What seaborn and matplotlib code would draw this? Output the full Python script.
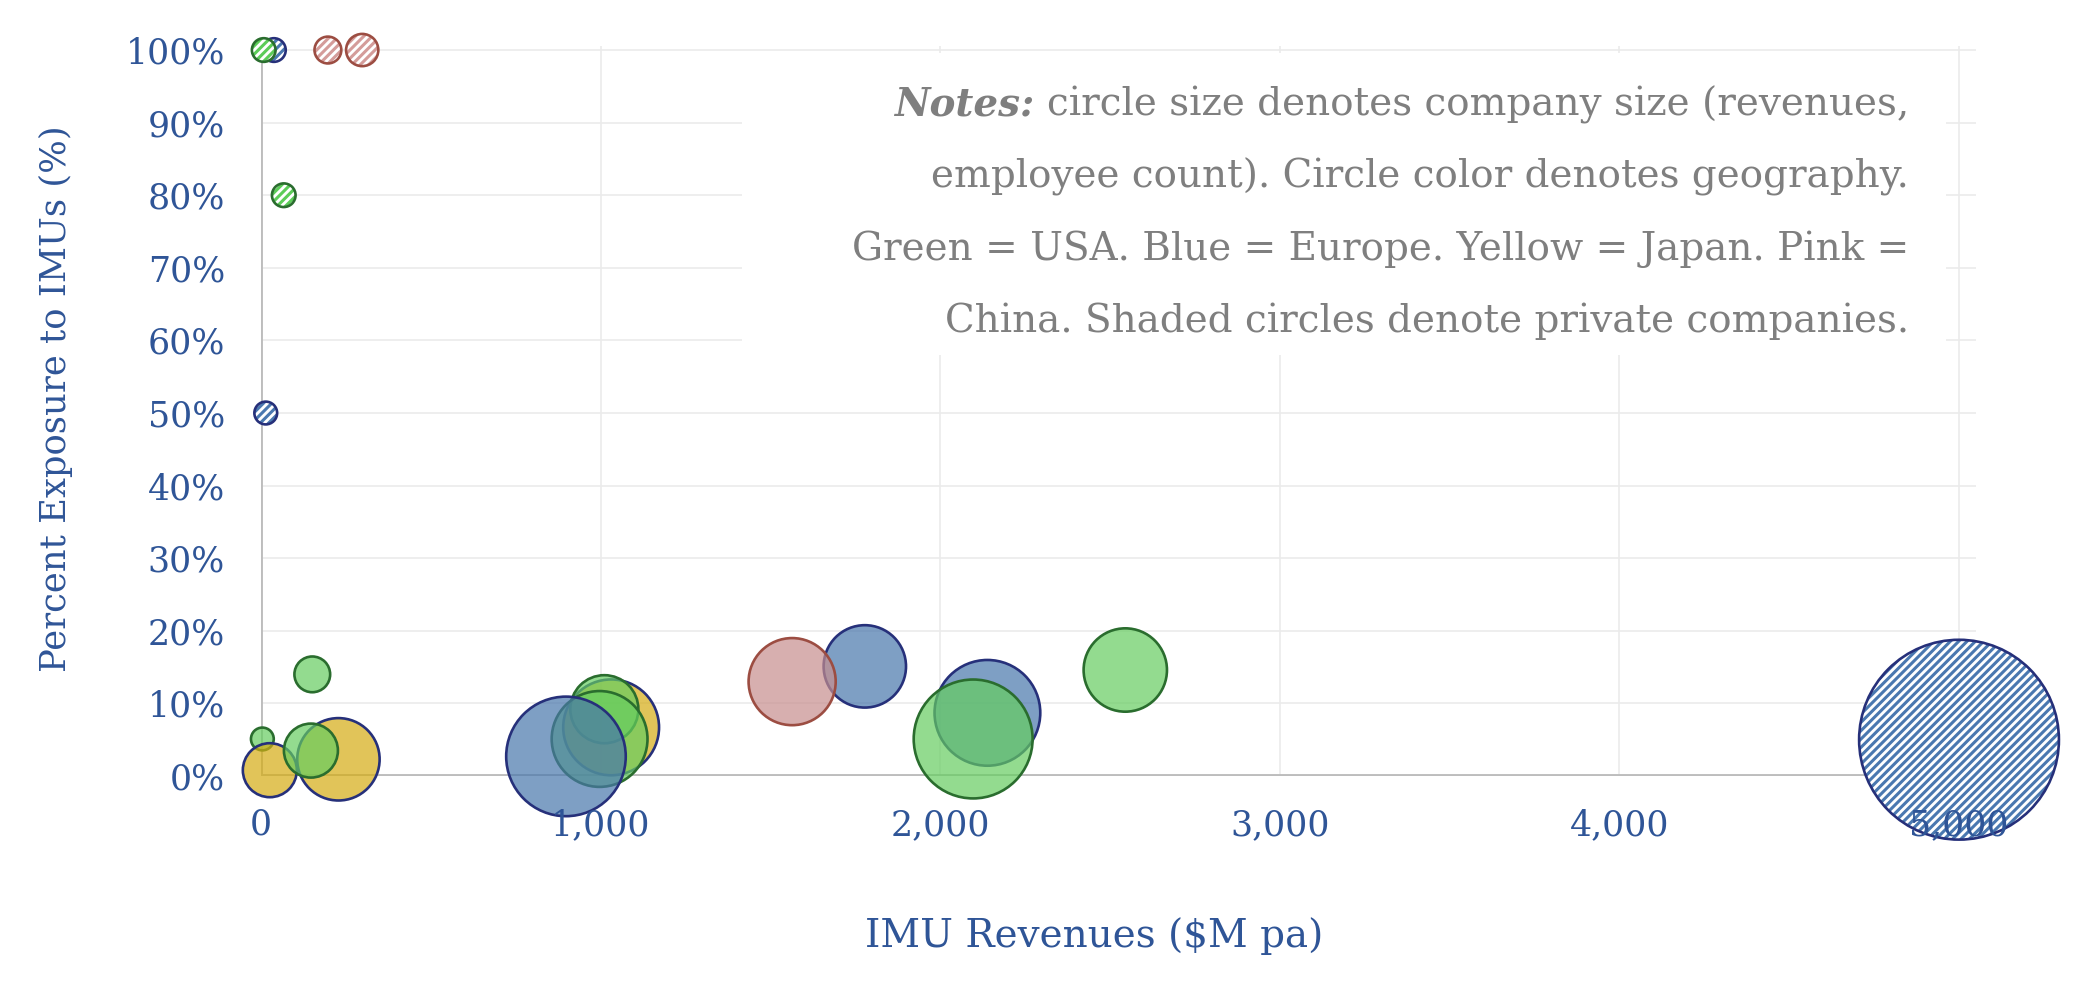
import matplotlib
matplotlib.use("Agg")
import matplotlib.pyplot as plt
import matplotlib.ticker as mticker
import matplotlib.patches as mpatches
import pandas as pd
import seaborn as sns

# IMU revenues ($M pa), % exposure to IMUs, relative company size (bubble area), geography, private?
revenue = [38, 14, 5000, 67, 8, 197, 298,
           151, 4, 26, 228, 147, 1031, 1011, 997, 898,
           1778, 1564, 2139, 2097, 2545]
exposure = [100, 50, 5.0, 80, 100, 100, 100,
            14.0, 5.1, 0.8, 2.3, 3.5, 6.7, 9.2, 5.1, 2.7,
            15.1, 13.0, 8.7, 5.1, 14.6]
company_size = [1.4, 1.3, 100, 1.4, 1.4, 1.8, 2.6,
                3.2, 1.3, 7.3, 17, 7.3, 23, 11.6, 23, 35.8,
                17, 19, 28, 35.4, 17.4]
region = ["Europe", "Europe", "Europe", "USA", "USA", "China", "China",
          "USA", "USA", "Japan", "Japan", "USA", "Japan", "USA", "USA", "Europe",
          "Europe", "China", "Europe", "USA", "USA"]
private = [True] * 7 + [False] * 14

x_ticks = [0, 1000, 2000, 3000, 4000, 5000]
y_ticks = [0, 10, 20, 30, 40, 50, 60, 70, 80, 90, 100]

notes = ["circle size denotes company size (revenues,",
         "employee count). Circle color denotes geography.",
         "Green = USA. Blue = Europe. Yellow = Japan. Pink =",
         "China. Shaded circles denote private companies."]

fill = {"USA": "#65cd60b3", "Europe": "#4876abb3", "Japan": "#d5ac13b3", "China": "#c78e8eb3"}
edge = {"USA": "#2a6d2e", "Europe": "#26307a", "Japan": "#26307a", "China": "#9c4d42"}
stripe = {"USA": "#5ccc58", "Europe": "#4a78b0", "China": "#d49c9a"}
label_col = "#2f5597"

sns.set_style("white")
plt.rcParams["font.family"] = ["DejaVu Serif"]
plt.rcParams["hatch.linewidth"] = 2.2

df = pd.DataFrame({"revenue": revenue, "exposure": exposure, "size": company_size,
                   "region": region, "private": private})

fig, ax = plt.subplots(figsize=(20.79, 9.9), dpi=100)
fig.subplots_adjust(left=261 / 2079, right=1976 / 2079, bottom=1 - 776 / 990, top=1 - 46.4 / 990)

size_kw = dict(size="size", sizes=(0, 207 * 100), size_norm=(0, 100), legend=False,
               clip_on=False, zorder=3, ax=ax)

# private companies: hatched fill, then outline on top
for reg in ["Europe", "USA", "China"]:
    sub = df[df["private"] & (df["region"] == reg)]
    sns.scatterplot(data=sub, x="revenue", y="exposure", color="white",
                    edgecolor=stripe[reg], linewidth=0, hatch="////", **size_kw)
    sns.scatterplot(data=sub, x="revenue", y="exposure", color=edge[reg],
                    facecolor="none", edgecolor=edge[reg], linewidth=1.9, **size_kw)

pub = df[~df["private"]]
sns.scatterplot(data=pub, x="revenue", y="exposure", hue="region", palette=fill,
                edgecolor=[edge[r] for r in pub["region"]], linewidth=1.9, **size_kw)

ax.set_xlim(0, 5050)
ax.set_ylim(0, 100.5)
ax.set_xticks(x_ticks)
ax.set_yticks(y_ticks)
ax.xaxis.set_major_formatter(mticker.StrMethodFormatter("{x:,.0f}"))
ax.yaxis.set_major_formatter(mticker.StrMethodFormatter("{x:.0f}%"))
ax.tick_params(length=0, labelsize=25, labelcolor=label_col)
ax.tick_params(axis="x", pad=23)
ax.tick_params(axis="y", pad=26)
ax.grid(False)
# grid kept beneath the bubbles, tick labels kept above them
for t in x_ticks[1:]:
    ax.axvline(t, color="#ebebeb", lw=1.2, zorder=0.5)
for t in y_ticks[1:]:
    ax.axhline(t, color="#ebebeb", lw=1.2, zorder=0.5)
ax.xaxis.set_zorder(5)
ax.yaxis.set_zorder(5)
for s in ax.spines.values():
    s.set_visible(False)
ax.axhline(0, color="#bdbdbd", lw=2.8, zorder=2)
ax.axvline(0, color="#bdbdbd", lw=2.8, zorder=2)

ax.set_xlabel(r"IMU Revenues (\$M pa)", fontsize=28, color=label_col)
ax.set_ylabel("Percent Exposure to IMUs (%)", fontsize=25.5, color=label_col)
ax.xaxis.set_label_coords(0.486, -0.219)
ax.yaxis.set_label_coords(-0.1195, 0.5165)
ax.xaxis.label.set_va("center")
ax.yaxis.label.set_va("center")

# white panel behind the notes
ax.add_patch(mpatches.Rectangle((742 / 2079, 1 - 355 / 990), 1204 / 2079, 302 / 990,
                                transform=fig.transFigure, facecolor="white",
                                edgecolor="none", zorder=1.5))
baselines = [116, 188, 260, 332]
texts = []
for line, b in zip(notes, baselines):
    texts.append(fig.text(1909 / 2079, 1 - b / 990, line, ha="right", va="baseline",
                          fontsize=28, color="#7f7f7f"))
fig.canvas.draw()
bb = texts[0].get_window_extent()
fig.text((bb.x0 - 12) / 2079, 1 - baselines[0] / 990, "Notes:", ha="right", va="baseline",
         fontsize=28, color="#7f7f7f", fontweight="bold", fontstyle="italic")

fig.savefig("out.png", dpi=100)
